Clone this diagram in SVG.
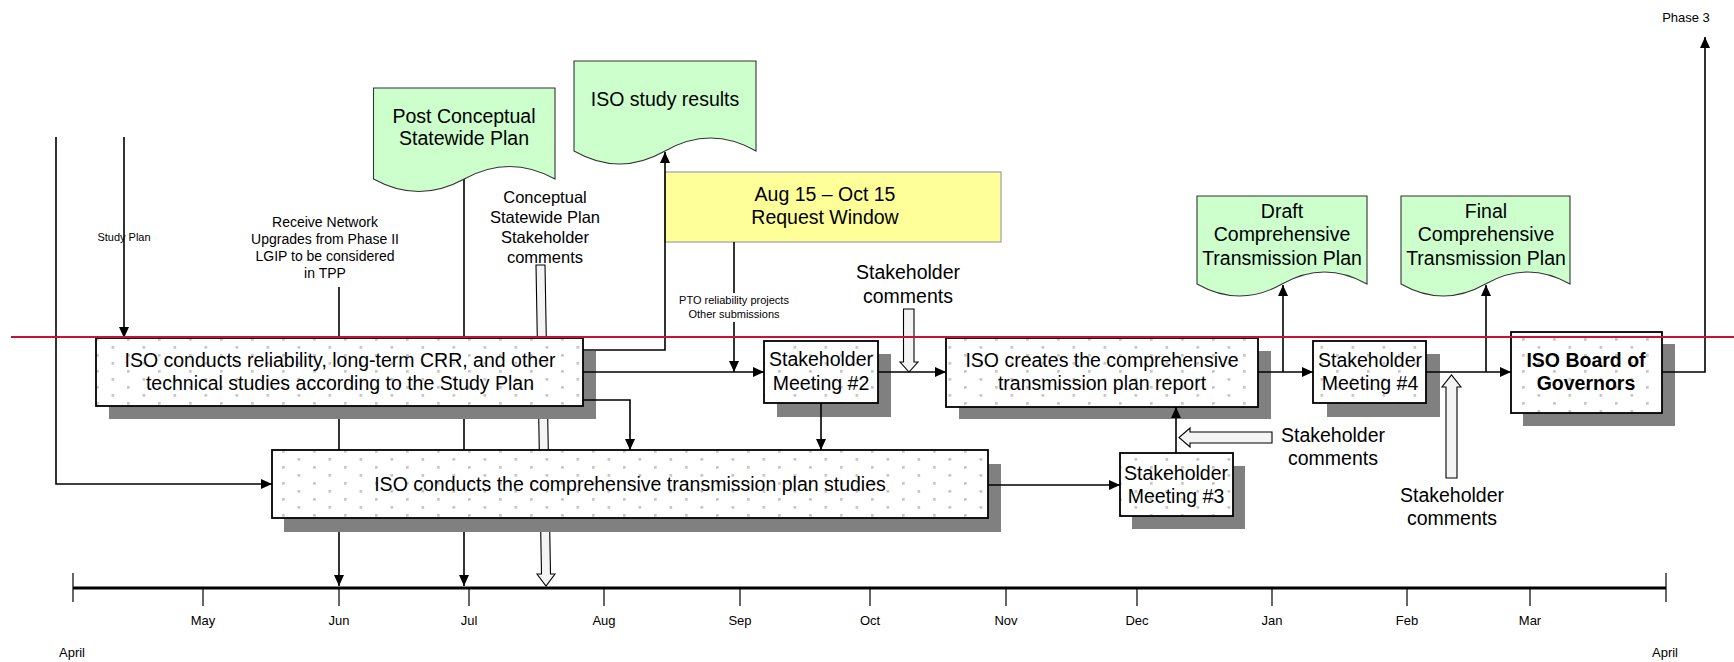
<svg xmlns="http://www.w3.org/2000/svg" width="1734" height="662" viewBox="0 0 1734 662">
<style>
text{font-family:"Liberation Sans",Arial,Helvetica,sans-serif;fill:#000;text-anchor:middle}
.big{font-size:19.5px}
.mid{font-size:16.5px}
.sm{font-size:14px}
.xs{font-size:11px}
.mo{font-size:13px}
.bold{font-weight:bold}
.box{fill:url(#dots);stroke:#000;stroke-width:1.8}
.shadow{fill:#808080}
.doc{fill:#CCFFCC;stroke:#333;stroke-width:1.1}
.ln{fill:none;stroke:#000;stroke-width:1.6}
.hollow{fill:#F4F4F4;stroke:#000;stroke-width:1.1}
.tick{stroke:#000;stroke-width:1.2}
</style>
<defs>
<pattern id="dots" patternUnits="userSpaceOnUse" width="31" height="16"><rect width="31" height="16" fill="#fff"/><rect x="3" y="2" width="2.7" height="2.7" fill="#c6c6c6"/><rect x="18.5" y="10" width="2.7" height="2.7" fill="#c6c6c6"/></pattern>
<marker id="ah" markerUnits="userSpaceOnUse" markerWidth="11" markerHeight="10" refX="11" refY="5" orient="auto"><path d="M0,0 L11,5 L0,10 Z" fill="#000"/></marker>
</defs>
<rect width="1734" height="662" fill="#fff"/>

<g id="timeline">
<line x1="73" y1="588" x2="1666" y2="588" stroke="#000" stroke-width="3"/>
<line class="tick" x1="73" y1="573" x2="73" y2="602"/>
<line class="tick" x1="1666" y1="573" x2="1666" y2="602"/>
<line class="tick" x1="203" y1="588" x2="203" y2="606"/>
<line class="tick" x1="339" y1="588" x2="339" y2="606"/>
<line class="tick" x1="469" y1="588" x2="469" y2="606"/>
<line class="tick" x1="604" y1="588" x2="604" y2="606"/>
<line class="tick" x1="740" y1="588" x2="740" y2="606"/>
<line class="tick" x1="870" y1="588" x2="870" y2="606"/>
<line class="tick" x1="1006" y1="588" x2="1006" y2="606"/>
<line class="tick" x1="1137" y1="588" x2="1137" y2="606"/>
<line class="tick" x1="1272" y1="588" x2="1272" y2="606"/>
<line class="tick" x1="1407" y1="588" x2="1407" y2="606"/>
<line class="tick" x1="1530" y1="588" x2="1530" y2="606"/>
<text class="mo" x="203" y="625">May</text>
<text class="mo" x="339" y="625">Jun</text>
<text class="mo" x="469" y="625">Jul</text>
<text class="mo" x="604" y="625">Aug</text>
<text class="mo" x="740" y="625">Sep</text>
<text class="mo" x="870" y="625">Oct</text>
<text class="mo" x="1006" y="625">Nov</text>
<text class="mo" x="1137" y="625">Dec</text>
<text class="mo" x="1272" y="625">Jan</text>
<text class="mo" x="1407" y="625">Feb</text>
<text class="mo" x="1530" y="625">Mar</text>
<text class="mo" x="72" y="657">April</text>
<text class="mo" x="1665" y="657">April</text>
</g>

<g id="connectors-behind">
<path class="ln" d="M339,287 V586" marker-end="url(#ah)"/>
<path class="ln" d="M464,175 V586" marker-end="url(#ah)"/>
<path class="hollow" d="M536,265 L545,265 L550.5,574 L555,574 L546,586 L537,574 L541.5,574 Z"/>
</g>

<g id="labels">
<text class="xs" x="124" y="241">Study Plan</text>
<text class="sm" x="325" y="227">Receive Network</text>
<text class="sm" x="325" y="244">Upgrades from Phase II</text>
<text class="sm" x="325" y="261">LGIP to be considered</text>
<text class="sm" x="325" y="278">in TPP</text>
<text class="mid" x="545" y="203">Conceptual</text>
<text class="mid" x="545" y="223">Statewide Plan</text>
<text class="mid" x="545" y="243">Stakeholder</text>
<text class="mid" x="545" y="263">comments</text>
<text class="xs" x="734" y="304">PTO reliability projects</text>
<text class="xs" x="734" y="318">Other submissions</text>
<text class="big" x="908" y="279">Stakeholder</text>
<text class="big" x="908" y="303">comments</text>
<text class="big" x="1333" y="442">Stakeholder</text>
<text class="big" x="1333" y="465">comments</text>
<text class="big" x="1452" y="502">Stakeholder</text>
<text class="big" x="1452" y="525">comments</text>
<text class="mo" x="1686" y="22">Phase 3</text>
</g>

<g id="doc-post-conceptual">
<path class="doc" d="M373.5,88 H555 V179 Q509.6,154 464.2,179 T373.5,179 Z"/>
<text class="big" x="464" y="123">Post Conceptual</text>
<text class="big" x="464" y="145">Statewide Plan</text>
</g>
<g id="doc-iso-study-results">
<path class="doc" d="M574,61 H756 V151 Q710.5,125 665,151 T574,151 Z"/>
<text class="big" x="665" y="106">ISO study results</text>
</g>
<g id="request-window">
<rect x="665" y="172" width="336" height="70" fill="#FFFF99" stroke="#A0A0A0" stroke-width="1.2"/>
<text class="big" x="825" y="201">Aug 15 – Oct 15</text>
<text class="big" x="825" y="224">Request Window</text>
</g>
<g id="doc-draft">
<path class="doc" d="M1197,196 H1367 V284 Q1324.5,260 1282,284 T1197,284 Z"/>
<text class="big" x="1282" y="218">Draft</text>
<text class="big" x="1282" y="241">Comprehensive</text>
<text class="big" x="1282" y="265">Transmission Plan</text>
</g>
<g id="doc-final">
<path class="doc" d="M1401,196 H1570 V284 Q1527.75,260 1485.5,284 T1401,284 Z"/>
<text class="big" x="1486" y="218">Final</text>
<text class="big" x="1486" y="241">Comprehensive</text>
<text class="big" x="1486" y="265">Transmission Plan</text>
</g>

<g id="box-technical-studies">
<rect class="shadow" x="109" y="351" width="487" height="68"/>
<rect class="box" x="96" y="338" width="487" height="68"/>
<text class="big" x="340" y="367">ISO conducts reliability, long-term CRR, and other</text>
<text class="big" x="340" y="390">technical studies according to the Study Plan</text>
</g>
<g id="box-comprehensive-studies">
<rect class="shadow" x="284" y="464" width="717" height="68"/>
<rect class="box" x="272" y="450" width="716" height="68"/>
<text class="big" x="630" y="491">ISO conducts the comprehensive transmission plan studies</text>
</g>
<g id="box-meeting-2">
<rect class="shadow" x="777" y="354" width="114" height="63"/>
<rect class="box" x="764" y="341" width="114" height="62"/>
<text class="big" x="821" y="366">Stakeholder</text>
<text class="big" x="821" y="390">Meeting #2</text>
</g>
<g id="box-plan-report">
<rect class="shadow" x="959" y="351" width="312" height="68"/>
<rect class="box" x="946" y="338" width="312" height="69"/>
<text class="big" x="1102" y="367">ISO creates the comprehensive</text>
<text class="big" x="1102" y="390">transmission plan report</text>
</g>
<g id="box-meeting-3">
<rect class="shadow" x="1132" y="466" width="113" height="63"/>
<rect class="box" x="1120" y="453" width="113" height="63"/>
<text class="big" x="1176" y="480">Stakeholder</text>
<text class="big" x="1176" y="503">Meeting #3</text>
</g>
<g id="box-meeting-4">
<rect class="shadow" x="1327" y="354" width="113" height="63"/>
<rect class="box" x="1313" y="341" width="113" height="62"/>
<text class="big" x="1370" y="367">Stakeholder</text>
<text class="big" x="1370" y="390">Meeting #4</text>
</g>
<g id="box-board">
<rect class="shadow" x="1523" y="344" width="152" height="82"/>
<rect class="box" x="1511" y="332" width="151" height="81"/>
<text class="big bold" x="1586" y="367">ISO Board of</text>
<text class="big bold" x="1586" y="390">Governors</text>
</g>

<g id="connectors">
<path class="ln" d="M56,137 V484 H272" marker-end="url(#ah)"/>
<path class="ln" d="M124,137 V338" marker-end="url(#ah)"/>
<path class="ln" d="M583,350 H665 V152" marker-end="url(#ah)"/>
<path class="ln" d="M583,372 H764" marker-end="url(#ah)"/>
<path class="ln" d="M583,400 H630 V450" marker-end="url(#ah)"/>
<path class="ln" d="M734,242 V293"/>
<path class="ln" d="M734,322 V372" marker-end="url(#ah)"/>
<path class="ln" d="M878,372 H946" marker-end="url(#ah)"/>
<path class="ln" d="M821,403 V450" marker-end="url(#ah)"/>
<path class="hollow" d="M903.5,309 L914,309 L914,362 L918,362 L909,372 L900,362 L903.5,362 Z"/>
<path class="ln" d="M1258,372 H1313" marker-end="url(#ah)"/>
<path class="ln" d="M1283,372 V285" marker-end="url(#ah)"/>
<path class="ln" d="M1426,372 H1511" marker-end="url(#ah)"/>
<path class="ln" d="M1486,372 V285" marker-end="url(#ah)"/>
<path class="ln" d="M1662,372 H1705 V37" marker-end="url(#ah)"/>
<path class="ln" d="M988,485 H1120" marker-end="url(#ah)"/>
<path class="ln" d="M1176,453 V407" marker-end="url(#ah)"/>
<path class="hollow" d="M1272,432 L1190,432 L1190,428 L1179,437.5 L1190,447 L1190,443 L1272,443 Z"/>
<path class="hollow" d="M1446,478 L1446,387 L1442,387 L1451.5,375 L1461,387 L1457,387 L1457,478 Z"/>
</g>

<line id="phase-line" x1="11" y1="337" x2="1734" y2="337" stroke="#C0143C" stroke-width="2"/>
</svg>
